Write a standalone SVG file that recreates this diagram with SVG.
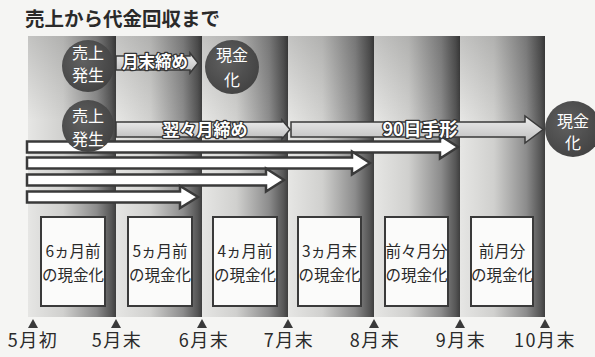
<svg xmlns="http://www.w3.org/2000/svg" width="595" height="357" viewBox="0 0 595 357">
<defs>
<linearGradient id="colg" x1="0" y1="0" x2="1" y2="0">
<stop offset="0" stop-color="#e6e6e4"/>
<stop offset="0.4" stop-color="#d0d0ce"/>
<stop offset="0.78" stop-color="#8c8c8c"/>
<stop offset="0.95" stop-color="#555555"/>
<stop offset="1" stop-color="#3e3e3e"/>
</linearGradient>
<linearGradient id="topshade" x1="0" y1="0" x2="0" y2="1">
<stop offset="0" stop-color="#000" stop-opacity="0.15"/>
<stop offset="0.3" stop-color="#000" stop-opacity="0"/>
<stop offset="1" stop-color="#000" stop-opacity="0"/>
</linearGradient>
<linearGradient id="flowg" x1="0" y1="0" x2="0" y2="1">
<stop offset="0" stop-color="#eeeeee"/>
<stop offset="1" stop-color="#bdbdbd"/>
</linearGradient>
<radialGradient id="circg" cx="0.4" cy="0.4" r="0.7">
<stop offset="0" stop-color="#606060"/>
<stop offset="1" stop-color="#404040"/>
</radialGradient>
<style>
.col{fill:url(#colg)}
.shade{fill:url(#topshade)}
.box{fill:#fbfbfa;stroke:#3a3a3a;stroke-width:2}
.bt{font-family:"Noto Sans CJK JP","Noto Sans",sans-serif;font-size:15.5px;fill:#2a2a2a;text-anchor:middle}
.circ{fill:url(#circg)}
.ct{font-family:"Noto Sans CJK JP","Noto Sans",sans-serif;font-size:16px;fill:#ffffff;text-anchor:middle}
.wa{fill:#ffffff;stroke:#3a3a3a;stroke-width:2.5;stroke-linejoin:miter}
.fa{fill:url(#flowg);stroke:#3a3a3a;stroke-width:1.5}
.lbl{font-family:"Noto Sans CJK JP","Noto Sans",sans-serif;font-weight:bold;fill:#ffffff;stroke:#333333;stroke-width:2.6;paint-order:stroke;text-anchor:middle;stroke-linejoin:round}
.tri{fill:#3a3a3a}
.ax{font-family:"Noto Sans CJK JP","Noto Sans",sans-serif;font-size:18px;fill:#2a2a2a;text-anchor:middle;letter-spacing:1.5px}
.title{font-family:"Noto Sans CJK JP","Noto Sans",sans-serif;font-size:19.5px;font-weight:bold;fill:#2a2a2a}
</style>
</defs>
<rect width="595" height="357" fill="#f5f5f3"/>
<text class="title" x="25" y="26">売上から代金回収まで</text>

<g id="columns">
<rect class="col" x="28" y="36" width="88" height="281"/>
<rect class="col" x="116" y="36" width="86" height="281"/>
<rect class="col" x="202" y="36" width="86" height="281"/>
<rect class="col" x="288" y="36" width="86" height="281"/>
<rect class="col" x="374" y="36" width="86" height="281"/>
<rect class="col" x="460" y="36" width="85" height="281"/>
<rect class="shade" x="28" y="36" width="517" height="281"/>
</g>

<g id="connectors">
<polygon class="fa" points="116,56 190,56 190,53 198,63 190,73 190,70 116,70"/>
<polygon class="fa" points="116,122 282,122 282,120 290,129.5 282,139 282,137 116,137"/>
<polygon class="fa" points="291,122 525,122 525,116 543,129.5 525,143 525,137 291,137"/>
<polygon class="wa" points="27,141.5 440,141.5 440,135.5 458,147 440,158.5 440,152.5 27,152.5"/>
<polygon class="wa" points="27,157.5 352,157.5 352,151.5 370,163 352,174.5 352,168.5 27,168.5"/>
<polygon class="wa" points="27,174.5 266,174.5 266,168.5 284,180 266,191.5 266,185.5 27,185.5"/>
<polygon class="wa" points="27,191.5 180,191.5 180,186 198,197 180,208 180,202.5 27,202.5"/>
<text class="lbl" x="155" y="68" font-size="16.5">月末締め</text>
<text class="lbl" x="205" y="135.5" font-size="17">翌々月締め</text>
<text class="lbl" x="420" y="135.5" font-size="18">90日手形</text>
</g>

<g id="node-sale1">
<circle class="circ" cx="88" cy="66" r="26"/>
<text class="ct" x="88" y="59">売上</text>
<text class="ct" x="88" y="81">発生</text>
</g>
<g id="node-sale2">
<circle class="circ" cx="88" cy="126" r="26"/>
<text class="ct" x="88" y="122">売上</text>
<text class="ct" x="88" y="145">発生</text>
</g>
<g id="node-cash1">
<circle class="circ" cx="232" cy="67" r="27"/>
<text class="ct" x="232" y="61">現金</text>
<text class="ct" x="232" y="86">化</text>
</g>
<g id="node-cash2">
<circle class="circ" cx="573" cy="129" r="28"/>
<text class="ct" x="573" y="127">現金</text>
<text class="ct" x="573" y="149">化</text>
</g>

<g id="box1">
<rect class="box" x="41" y="217" width="64" height="89"/>
<text class="bt" x="73" y="257">6ヵ月前</text>
<text class="bt" x="73" y="281">の現金化</text>
</g>
<g id="box2">
<rect class="box" x="128" y="217" width="64" height="89"/>
<text class="bt" x="160" y="257">5ヵ月前</text>
<text class="bt" x="160" y="281">の現金化</text>
</g>
<g id="box3">
<rect class="box" x="213" y="217" width="64" height="89"/>
<text class="bt" x="245" y="257">4ヵ月前</text>
<text class="bt" x="245" y="281">の現金化</text>
</g>
<g id="box4">
<rect class="box" x="298" y="217" width="63" height="89"/>
<text class="bt" x="329.5" y="257">3ヵ月末</text>
<text class="bt" x="329.5" y="281">の現金化</text>
</g>
<g id="box5">
<rect class="box" x="385" y="217" width="63" height="89"/>
<text class="bt" x="416.5" y="257">前々月分</text>
<text class="bt" x="416.5" y="281">の現金化</text>
</g>
<g id="box6">
<rect class="box" x="471" y="217" width="62" height="89"/>
<text class="bt" x="502" y="257">前月分</text>
<text class="bt" x="502" y="281">の現金化</text>
</g>

<g id="timeline">
<polygon class="tri" points="33,319 28,328 38,328"/>
<polygon class="tri" points="116,319 111,328 121,328"/>
<polygon class="tri" points="202,319 197,328 207,328"/>
<polygon class="tri" points="288,319 283,328 293,328"/>
<polygon class="tri" points="374,319 369,328 379,328"/>
<polygon class="tri" points="460,319 455,328 465,328"/>
<polygon class="tri" points="545,319 540,328 550,328"/>
<text class="ax" x="33" y="347">5月初</text>
<text class="ax" x="117" y="347">5月末</text>
<text class="ax" x="204" y="347">6月末</text>
<text class="ax" x="289" y="347">7月末</text>
<text class="ax" x="375" y="347">8月末</text>
<text class="ax" x="461" y="347">9月末</text>
<text class="ax" x="545" y="347">10月末</text>
</g>
</svg>
